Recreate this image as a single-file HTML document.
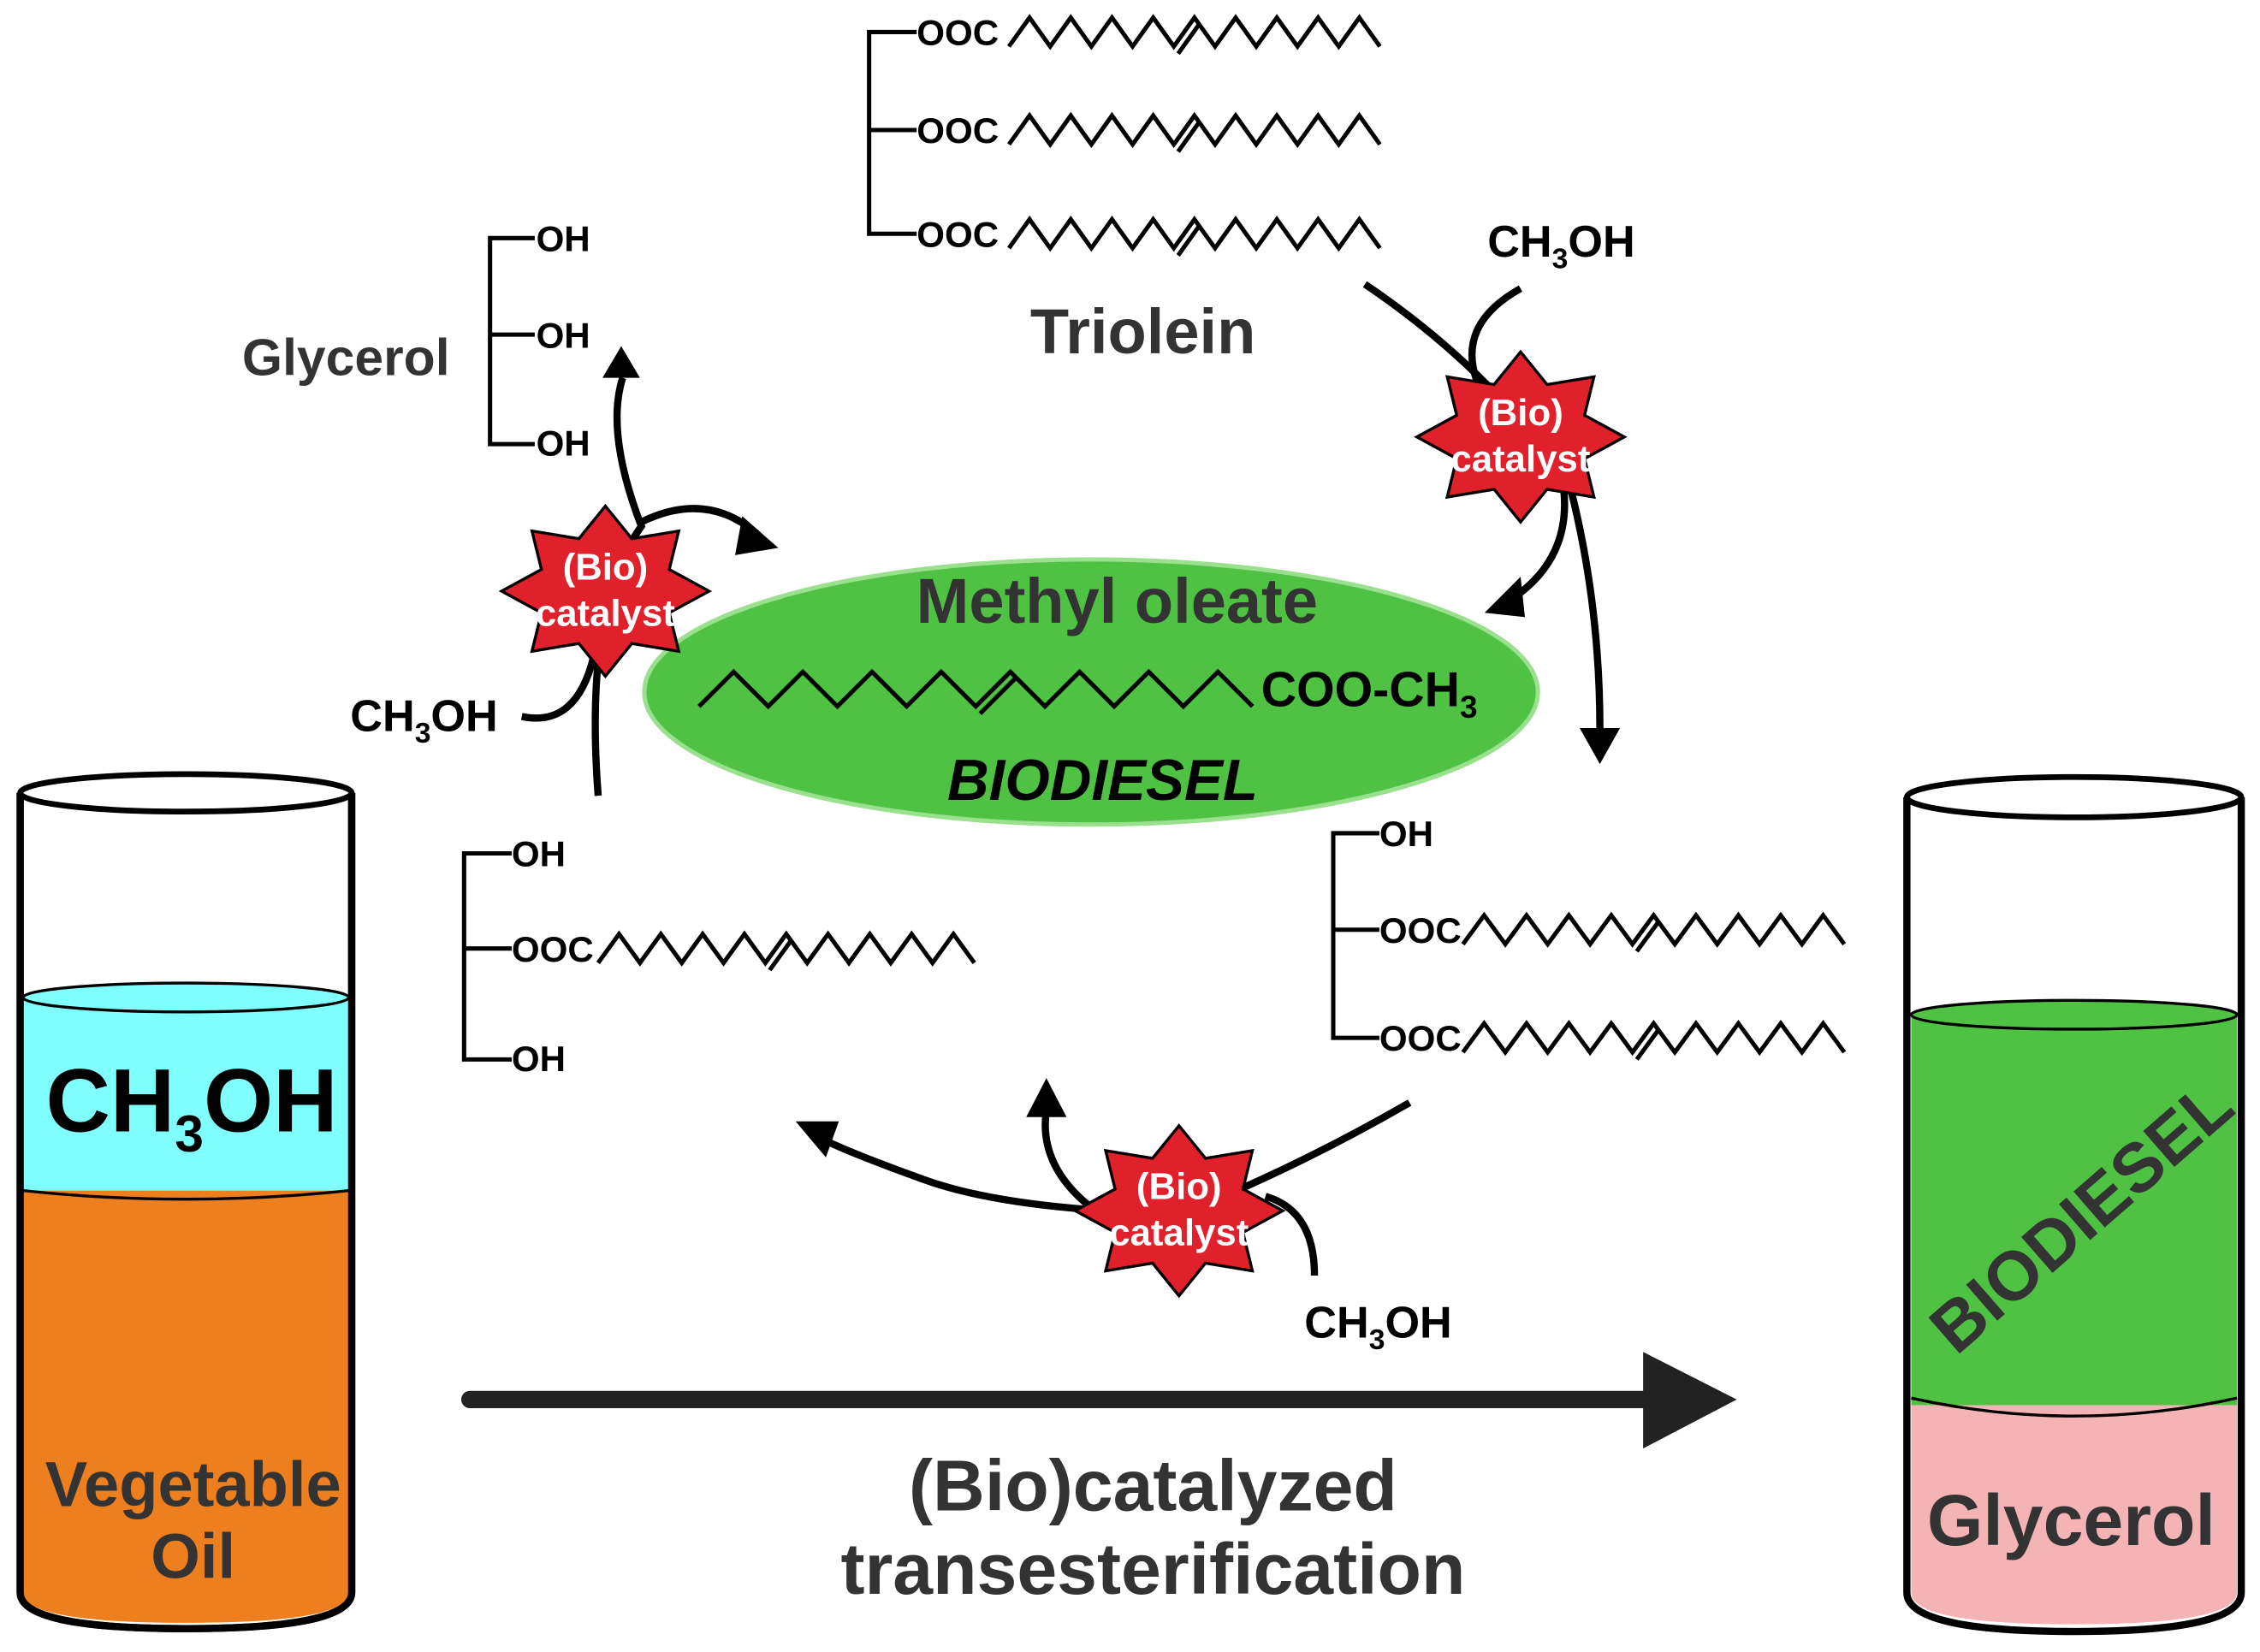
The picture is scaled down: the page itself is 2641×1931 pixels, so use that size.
<!DOCTYPE html>
<html><head><meta charset="utf-8"><style>
html,body{margin:0;padding:0;background:#fff}
svg{display:block}
text{font-family:"Liberation Sans",Arial,sans-serif;font-weight:bold}
</style></head><body>
<svg id="s" width="2641" height="1931" viewBox="0 0 1568 1146" xmlns="http://www.w3.org/2000/svg">
<!-- Left beaker -->
<g stroke="#000" stroke-width="5">
<path d="M14,550 L14,1105 Q14,1130 129,1130 Q244,1130 244,1105 L244,550" fill="#fff"/>
</g>
<path d="M16,692 L16,826 L242,826 L242,692 Z" fill="#80ffff"/>
<ellipse cx="129" cy="692" rx="113" ry="10" fill="#80ffff" stroke="#000" stroke-width="2"/>
<path d="M16,826 L16,1105 Q16,1126 129,1126 Q242,1126 242,1105 L242,826 Z" fill="#ee7f1e"/>
<path d="M16,826 Q129,838 242,826" fill="none" stroke="#000" stroke-width="2"/>
<path d="M14,550 L14,1105 Q14,1130 129,1130 Q244,1130 244,1105 L244,550" fill="none" stroke="#000" stroke-width="5"/>
<ellipse cx="129" cy="550" rx="115" ry="13" fill="#fff" stroke="#000" stroke-width="4"/>
<text x="133" y="785" font-size="62" text-anchor="middle" fill="#000">CH<tspan font-size="36" dy="14">3</tspan><tspan dy="-14">OH</tspan></text>
<text x="134" y="1045" font-size="44" text-anchor="middle" fill="#333">Vegetable</text>
<text x="134" y="1095" font-size="44" text-anchor="middle" fill="#333">Oil</text>

<!-- Right beaker -->
<path d="M1326,702 L1326,975 L1552,975 L1552,702 Z" fill="#4fc244"/>
<ellipse cx="1439" cy="704" rx="113" ry="10" fill="#4fc244" stroke="#000" stroke-width="2"/>
<path d="M1326,975 L1326,1105 Q1326,1127 1439,1127 Q1552,1127 1552,1105 L1552,975 Z" fill="#f4b4b6"/>
<path d="M1326,970 Q1439,995 1552,970" fill="none" stroke="#000" stroke-width="2"/>
<path d="M1323,553 L1323,1105 Q1323,1132 1439,1132 Q1555,1132 1555,1105 L1555,553" fill="none" stroke="#000" stroke-width="5"/>
<ellipse cx="1439" cy="553" rx="116" ry="14" fill="#fff" stroke="#000" stroke-width="4"/>
<text x="1445" y="860" font-size="48" text-anchor="middle" fill="#333" transform="rotate(-41 1445 845)">BIODIESEL</text>
<text x="1437" y="1072" font-size="50" text-anchor="middle" fill="#333">Glycerol</text>

<!-- Big arrow -->
<line x1="326" y1="971" x2="1145" y2="971" stroke="#222" stroke-width="12" stroke-linecap="round"/>
<polygon points="1140,938 1205,971 1140,1005" fill="#222"/>
<text x="800" y="1048" font-size="50" text-anchor="middle" fill="#333">(Bio)catalyzed</text>
<text x="800" y="1106" font-size="50" text-anchor="middle" fill="#333">transesterification</text>

<!-- Ellipse -->
<ellipse cx="757" cy="480" rx="310" ry="92" fill="#4fc244" stroke="#9be08f" stroke-width="3"/>
<text x="775" y="432" font-size="44" text-anchor="middle" fill="#333">Methyl oleate</text>
<text x="875" y="490" font-size="34" fill="#000">COO-CH<tspan font-size="22" dy="8">3</tspan></text>
<text x="765" y="555" font-size="40" font-style="italic" text-anchor="middle" fill="#000">BIODIESEL</text>

<g id="chains" fill="none" stroke="#000" stroke-width="3"></g>

<g stroke="#000" stroke-width="3" fill="none">
<path d="M636,22 L603,22 L603,162 L636,162 M603,90 L636,90"/>
<path d="M371,165 L340,165 L340,308 L371,308 M340,232 L371,232"/>
<path d="M355,592 L322,592 L322,735 L355,735 M322,658 L355,658"/>
<path d="M957,578 L925,578 L925,720 L957,720 M925,645 L957,645"/>
</g>
<g font-size="25" fill="#000">
<text x="636" y="31">OOC</text><text x="636" y="99">OOC</text><text x="636" y="171">OOC</text>
<text x="372" y="174">OH</text><text x="372" y="241">OH</text><text x="372" y="316">OH</text>
<text x="355" y="601">OH</text><text x="355" y="667">OOC</text><text x="355" y="743">OH</text>
<text x="957" y="587">OH</text><text x="957" y="654">OOC</text><text x="957" y="729">OOC</text>
</g>
<text x="793" y="245" font-size="44" text-anchor="middle" fill="#333">Triolein</text>
<text x="240" y="260" font-size="36" text-anchor="middle" fill="#333">Glycerol</text>

<!-- curved arrows -->
<g fill="none" stroke="#000" stroke-width="5">
<path d="M947,197 Q1040,260 1090,340 Q1110,420 1110,505"/>
<path d="M1055,200 Q1010,225 1025,265"/>
<path d="M1085,340 Q1090,390 1045,418"/>
<path d="M415,552 Q405,420 445,365 Q420,300 432,262"/>
<path d="M445,362 Q490,340 525,370"/>
<path d="M362,497 Q400,505 412,455"/>
<path d="M978,765 Q900,810 820,842 Q700,840 640,818 Q590,800 570,790"/>
<path d="M760,840 Q720,810 726,770"/>
<path d="M878,830 Q912,840 912,885"/>
</g>
<g fill="#000">
<polygon points="1096,505 1124,505 1110,530"/>
<polygon points="1030,425 1055,400 1058,428"/>
<polygon points="418,262 444,262 431,240"/>
<polygon points="515,358 540,380 510,385"/>
<polygon points="552,778 582,778 573,803"/>
<polygon points="712,775 740,775 726,748"/>
</g>

<g id="stars"></g>
<g font-size="31" fill="#000">
<text x="1032" y="178">CH<tspan font-size="20" dy="8">3</tspan><tspan dy="-8">OH</tspan></text>
<text x="243" y="507">CH<tspan font-size="20" dy="8">3</tspan><tspan dy="-8">OH</tspan></text>
<text x="905" y="928">CH<tspan font-size="20" dy="8">3</tspan><tspan dy="-8">OH</tspan></text>
</g>
</svg>
<script>
var ns="http://www.w3.org/2000/svg";
function zz(x0,x1,y,amp,step,dbl){
 var pts=[],i=0,x=x0;
 while(x<=x1){pts.push(x+","+(y+(i%2?-amp:amp)/2));x+=step;i++;}
 var p=document.createElementNS(ns,"polyline");p.setAttribute("points",pts.join(" "));
 document.getElementById("chains").appendChild(p);
 if(dbl){var xa=x0+step*dbl,ya=y+((dbl%2)?-amp:amp)/2,xb=xa+step,yb=y+(((dbl+1)%2)?-amp:amp)/2;
 var l=document.createElementNS(ns,"line");l.setAttribute("x1",xa+3);l.setAttribute("y1",ya+5);l.setAttribute("x2",xb+3);l.setAttribute("y2",yb+5);
 document.getElementById("chains").appendChild(l);}
}
zz(700,958,22,20,14.3,8);
zz(700,958,90,20,14.3,8);
zz(700,958,162,20,14.3,8);
zz(415,676,658,20,14.5,8);
zz(1015,1280,645,20,14.7,8);
zz(1015,1280,720,20,14.7,8);
zz(485,870,478,24,24,8);
function star(cx,cy){
 var g=document.getElementById("stars"),pts=[];
 for(var i=0;i<16;i++){var r=i%2?48:72,a=Math.PI*2*i/16-Math.PI/2;pts.push((cx+r*Math.cos(a))+","+(cy+r*Math.sin(a)*0.82));}
 var p=document.createElementNS(ns,"polygon");p.setAttribute("points",pts.join(" "));
 p.setAttribute("fill","#e0202a");p.setAttribute("stroke","#000");p.setAttribute("stroke-width","2");g.appendChild(p);
 [["(Bio)",-3],["catalyst",29]].forEach(function(t){var e=document.createElementNS(ns,"text");e.setAttribute("x",cx);e.setAttribute("y",cy+t[1]-5);
 e.setAttribute("text-anchor","middle");e.setAttribute("font-size","26");e.setAttribute("fill","#fff");e.textContent=t[0];g.appendChild(e);});
}
star(1055,303);star(420,410);star(818,840);
</script>
</body></html>
